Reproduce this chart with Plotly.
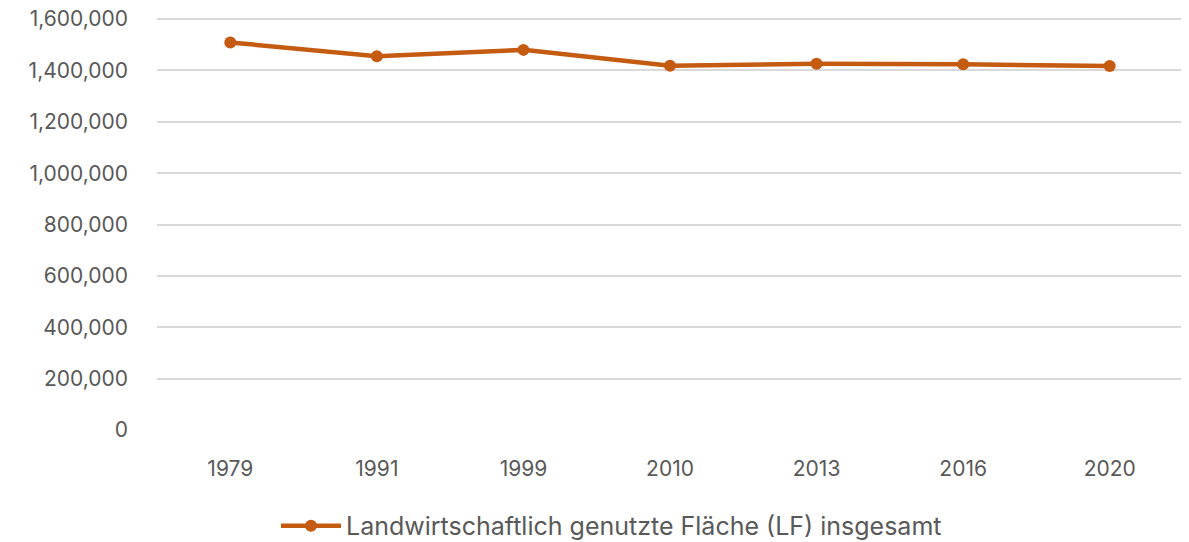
import plotly.graph_objects as go

# Landwirtschaftlich genutzte Fläche (LF) in ha
jahre = ["1979", "1991", "1999", "2010", "2013", "2016", "2020"]
lf_insgesamt = [1509000, 1455000, 1480000, 1418000, 1426000, 1424000, 1417000]
serien_name = "Landwirtschaftlich genutzte Fläche (LF) insgesamt"

LINIE = "#C55A11"
GRAU_TEXT = "#595959"
GRAU_GITTER = "#D9D9D9"
SCHRIFT = "Inter, 'Open Sans', sans-serif"

fig = go.Figure()
fig.add_trace(go.Scatter(
    x=jahre,
    y=lf_insgesamt,
    name=serien_name,
    mode="lines+markers",
    line=dict(color=LINIE, width=4.5),
    marker=dict(color=LINIE, size=12),
    showlegend=True,
))

# die Seite hat 8px Rand, deshalb etwas kleiner als das Fenster
fig.update_layout(
    width=1181, height=534,
    margin=dict(l=149, r=6, t=9, b=112),
    plot_bgcolor="white",
    paper_bgcolor="white",
    font=dict(family=SCHRIFT, size=21, color=GRAU_TEXT),
    legend=dict(
        orientation="h",
        xref="container", yref="container",
        x=0.511, xanchor="center",
        y=0.03, yanchor="middle",
        font=dict(size=25, color=GRAU_TEXT),
        itemwidth=60,
    ),
)

fig.update_xaxes(
    type="category",
    range=[-0.5, len(jahre) - 0.5],
    automargin=False,
    showgrid=False, showline=False, zeroline=False,
    ticks="", ticklabelstandoff=24,
)
# obere Grenze etwas über 1,6 Mio., sonst wird die oberste Gitterlinie weggelassen
fig.update_yaxes(
    range=[0, 1608000],
    tickvals=[0, 200000, 400000, 600000, 800000, 1000000, 1200000, 1400000, 1600000],
    tickformat=",d",
    ticklabeloverflow="allow",
    automargin=False,
    showgrid=True, gridcolor=GRAU_GITTER, gridwidth=1.5,
    zeroline=False, showline=False,
    ticks="", ticklabelstandoff=28,
)

fig.write_html("out.html")
